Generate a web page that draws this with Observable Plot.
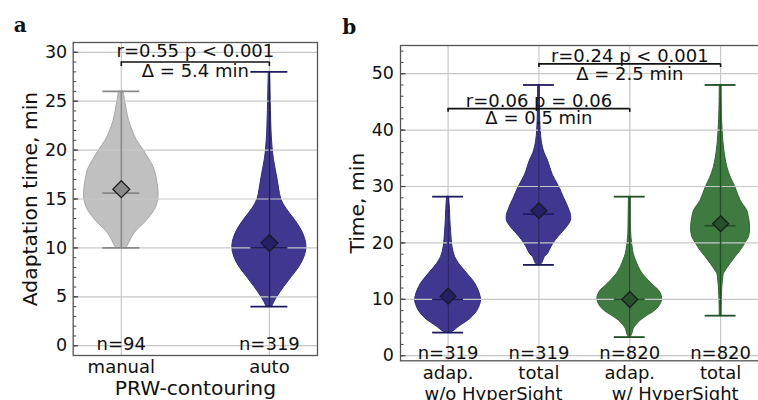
<!DOCTYPE html>
<html><head><meta charset="utf-8">
<script src="https://cdn.jsdelivr.net/npm/d3@7"></script>
<script src="https://cdn.jsdelivr.net/npm/@observablehq/plot@0.6"></script>
<style>
html,body{margin:0;padding:0;background:#fff;overflow:hidden;width:758px;height:400px}
#a{position:absolute;left:0;top:0;width:340px;height:400px}
#b{position:absolute;left:340px;top:0;width:418px;height:400px;overflow:hidden}
</style></head><body><div id="a"></div><div id="b"></div>
<script>
// ---------- Panel a data ----------
const aCategories = ["manual", "auto"];
const aN = [94, 319];
const aMin = [10, 4];
const aMax = [26, 28];
const aMedian = [15.6, 10.0];
const aMean = [16.0, 10.5];
const manualProfileY = [10, 10.4, 11, 11.5, 12, 12.5, 13, 14, 15, 16, 17, 18, 19, 20, 21, 22, 23, 24, 25, 26];
const manualProfileW = [0.035, 0.05, 0.07, 0.09, 0.12, 0.155, 0.185, 0.23, 0.25, 0.25, 0.24, 0.225, 0.19, 0.15, 0.105, 0.075, 0.052, 0.038, 0.026, 0.015];
const autoProfileY = [4, 4.5, 5, 6, 7, 8, 9, 10, 11, 12, 13, 14, 15, 16, 17, 18, 19, 20, 22, 24, 26, 28];
const autoProfileW = [0.02, 0.035, 0.055, 0.1, 0.15, 0.2, 0.235, 0.25, 0.24, 0.21, 0.165, 0.115, 0.08, 0.066, 0.055, 0.043, 0.031, 0.023, 0.014, 0.01, 0.007, 0.004];
const aYTicks = [0, 5, 10, 15, 20, 25, 30];
const aBrackets = [{from: 1, to: 2, y: 29, top: "r=0.55 p < 0.001", bottom: "Δ = 5.4 min"}];

// ---------- Panel b data ----------
const bCategories = ["adap.", "total", "adap.", "total"];
const bGroups = ["w/o HyperSight", "w/ HyperSight"];
const bN = [319, 319, 820, 820];
const bMin = [4.1, 16.1, 3.3, 7.1];
const bMax = [28.2, 48, 28.2, 48];
const bMedian = [10.0, 25.1, 10.0, 23.05];
const bMean = [10.55, 25.7, 9.96, 23.4];
const adapWoY = [4.1, 4.3, 5.0, 5.5, 6.2, 7.0, 8.0, 9.0, 9.8, 10.5, 11.6, 12.8, 13.9, 15.0, 16.3, 17.5, 19.2, 22, 24, 26, 28.2];
const adapWoW = [0.016, 0.055, 0.11, 0.154, 0.22, 0.275, 0.324, 0.352, 0.363, 0.357, 0.335, 0.297, 0.245, 0.187, 0.121, 0.077, 0.049, 0.033, 0.025, 0.02, 0.011];
const totalWoY = [16.1, 16.3, 17.5, 18.05, 19.2, 20.5, 21.6, 23, 23.9, 25, 25.7, 26.9, 28, 29.8, 32, 34.6, 36, 38.1, 41.7, 45, 48];
const totalWoW = [0.016, 0.033, 0.066, 0.099, 0.135, 0.187, 0.245, 0.319, 0.352, 0.352, 0.337, 0.308, 0.275, 0.227, 0.154, 0.099, 0.06, 0.03, 0.014, 0.011, 0.009];
const adapWY = [3.3, 3.8, 4.8, 5.5, 6.2, 7.0, 8.0, 9.0, 9.8, 10.6, 11.6, 12.4, 13.3, 14.5, 15.7, 17, 18.05, 20, 21.6, 24, 28.2];
const adapWW = [0.011, 0.027, 0.044, 0.077, 0.118, 0.187, 0.282, 0.335, 0.355, 0.352, 0.319, 0.264, 0.209, 0.143, 0.099, 0.066, 0.044, 0.025, 0.016, 0.013, 0.009];
const totalWY = [7.1, 9, 12.1, 13.5, 14.5, 15.3, 16.3, 17.5, 18.6, 20, 21, 22.2, 23.4, 24.5, 25.7, 27.5, 29.8, 31.5, 33.4, 35.5, 38.1, 42, 45, 48];
const totalWW = [0.009, 0.011, 0.019, 0.027, 0.036, 0.066, 0.11, 0.165, 0.22, 0.275, 0.311, 0.324, 0.322, 0.311, 0.293, 0.22, 0.165, 0.115, 0.074, 0.049, 0.03, 0.016, 0.011, 0.009];
const bYTicks = [0, 10, 20, 30, 40, 50];
const bBrackets = [
  {from: 1, to: 3, y: 43.8, top: "r=0.06 p = 0.06", bottom: "Δ = 0.5 min"},
  {from: 2, to: 4, y: 51.75, top: "r=0.24 p < 0.001", bottom: "Δ = 2.5 min"}
];

// ---------- styles ----------
const FONT = "DejaVu Sans";
const FS = 18;
const gray = {fill: "#c0c0c0", edge: "#a6a6a6", line: "#8a8a8a", dot: "#8a8a8a"};
const blue = {fill: "#3f3790", edge: "#2f2880", line: "#1e1a60", dot: "#241f66"};
const green = {fill: "#3f7b41", edge: "#2e6a31", line: "#1f4f22", dot: "#255229"};

const diamond = {draw(ctx, size) { const r = Math.sqrt(size / Math.PI); ctx.moveTo(0, -r); ctx.lineTo(r, 0); ctx.lineTo(0, r); ctx.lineTo(-r, 0); ctx.closePath(); }};
const tickSym = L => ({draw(ctx) { ctx.moveTo(0, 0); ctx.lineTo(L, 0); }});

function profile(pos, ys, ws) { return ys.map((y, i) => ({pos, y, w: ws[i]})); }

function violinMarks(rows, col) {
  return Plot.areaX(rows, {y: "y", x1: d => d.pos - d.w, x2: d => d.pos + d.w, fill: col.fill, fillOpacity: 1, stroke: col.edge, strokeWidth: 1, curve: "catmull-rom"});
}

function statMarks(pos, mins, maxs, meds, means, cols, cap, r) {
  const idx = pos.map((_, i) => i);
  return [
    Plot.ruleX(idx, {x: i => pos[i], y1: i => mins[i], y2: i => maxs[i], stroke: i => cols[i].line, strokeWidth: 1.6}),
    Plot.ruleY(idx, {y: i => mins[i], x1: i => pos[i] - cap, x2: i => pos[i] + cap, stroke: i => cols[i].line, strokeWidth: 1.8}),
    Plot.ruleY(idx, {y: i => maxs[i], x1: i => pos[i] - cap, x2: i => pos[i] + cap, stroke: i => cols[i].line, strokeWidth: 1.8}),
    Plot.ruleY(idx, {y: i => meds[i], x1: i => pos[i] - cap, x2: i => pos[i] + cap, stroke: i => cols[i].line, strokeWidth: 1.6}),
    Plot.dot(idx, {x: i => pos[i], y: i => means[i], symbol: diamond, r, fill: i => cols[i].dot, stroke: "#1a1a1a", strokeWidth: 1.2})
  ];
}

function bracketMarks(br, drop, dyTop, dyBot) {
  const ends = br.flatMap(d => [{x: d.from, y: d.y}, {x: d.to, y: d.y}]);
  return [
    Plot.ruleY(br, {y: "y", x1: "from", x2: "to", stroke: "#111", strokeWidth: 1.6}),
    Plot.ruleX(ends, {x: "x", y1: "y", y2: d => d.y - drop, stroke: "#111", strokeWidth: 1.6}),
    Plot.text(br, {x: d => (d.from + d.to) / 2, y: "y", text: "top", dy: dyTop, fontSize: FS, fill: "#111"}),
    Plot.text(br, {x: d => (d.from + d.to) / 2, y: "y", text: "bottom", dy: dyBot, fontSize: FS, fill: "#111"})
  ];
}

const M = {lineAnchor: "middle", textAnchor: "middle"};

// ---------- Panel a ----------
const aPos = aCategories.map((_, i) => i + 1);
const aMinor = d3.range(0, 31, 1);
const plotA = Plot.plot({
  width: 340, height: 400,
  marginLeft: 72.7, marginRight: 23, marginTop: 42, marginBottom: 45,
  style: {fontFamily: FONT, fontSize: "17px", background: "transparent", overflow: "visible"},
  x: {domain: [0.675, 2.325], axis: null},
  y: {domain: [-1, 31], axis: null},
  color: {type: "identity"},
  marks: [
    violinMarks(profile(1, manualProfileY, manualProfileW), gray),
    violinMarks(profile(2, autoProfileY, autoProfileW), blue),
    Plot.gridY(aYTicks, {stroke: "#c8c8c8", strokeOpacity: 1, strokeWidth: 1.2}),
    Plot.gridX(aPos, {stroke: "#c8c8c8", strokeOpacity: 1, strokeWidth: 1.2}),
    statMarks(aPos, aMin, aMax, aMedian, aMean, [gray, blue], 0.125, 8.5),
    bracketMarks(aBrackets, 0.45, -10.4, 9.6),
    Plot.text(aPos, {x: d => d, y: 0, text: (d, i) => "n=" + aN[i], dy: -1.6, fontSize: FS, fill: "#111"}),
    Plot.text(aPos, {...M, x: d => d, frameAnchor: "bottom", text: (d, i) => aCategories[i], dy: 11.8, fontSize: FS, fill: "#111"}),
    Plot.text(["PRW-contouring"], {...M, frameAnchor: "bottom", dy: 32.6, fontSize: 20.3, fill: "#111"}),
    Plot.text(["Adaptation time, min"], {...M, frameAnchor: "left", rotate: -90, dx: -42.2, fontSize: 20.3, fill: "#111"}),
    Plot.text(["a"], {frameAnchor: "top-left", textAnchor: "start", lineAnchor: "middle", dx: -59.4, dy: -17.4, fontSize: 20, fontWeight: "bold", fontFamily: "DejaVu Serif", fill: "#111"}),
    Plot.dot(aMinor, {y: d => d, frameAnchor: "left", symbol: tickSym(3), r: 1, fill: "none", stroke: "#444", strokeWidth: 1}),
    Plot.dot(aYTicks, {y: d => d, frameAnchor: "left", symbol: tickSym(5), r: 1, fill: "none", stroke: "#444", strokeWidth: 1.2}),
    Plot.axisY(aYTicks, {tickSize: 0, tickPadding: 6, label: null, fontSize: 17.5, fill: "#111"}),
    Plot.frame({stroke: "#555", strokeWidth: 1.3})
  ]
});
document.getElementById("a").appendChild(plotA);

// ---------- Panel b ----------
const bPos = bCategories.map((_, i) => i + 1);
const bCols = [blue, blue, green, green];
const bMinor = d3.range(0, 55, 2);
const plotB = Plot.plot({
  width: 418, height: 400,
  marginLeft: 60, marginRight: -9.7, marginTop: 45, marginBottom: 39.7,
  style: {fontFamily: FONT, fontSize: "17px", background: "transparent", overflow: "hidden"},
  x: {domain: [0.476, 4.524], axis: null},
  y: {domain: [-0.9, 55], axis: null},
  color: {type: "identity"},
  marks: [
    violinMarks(profile(1, adapWoY, adapWoW), blue),
    violinMarks(profile(2, totalWoY, totalWoW), blue),
    violinMarks(profile(3, adapWY, adapWW), green),
    violinMarks(profile(4, totalWY, totalWW), green),
    Plot.gridY(bYTicks, {stroke: "#c8c8c8", strokeOpacity: 1, strokeWidth: 1.2}),
    Plot.gridX(bPos, {stroke: "#c8c8c8", strokeOpacity: 1, strokeWidth: 1.2}),
    statMarks(bPos, bMin, bMax, bMedian, bMean, bCols, 0.17, 8),
    bracketMarks(bBrackets, 0.65, -7.3, 10.0),
    Plot.text(bPos, {x: d => d, y: 0, text: (d, i) => "n=" + bN[i], dy: -2.6, fontSize: FS, fill: "#111"}),
    Plot.text(bPos, {...M, x: d => d, frameAnchor: "bottom", text: (d, i) => bCategories[i], dy: 12.1, fontSize: FS, fill: "#111"}),
    Plot.text([1.5, 3.5], {...M, x: d => d, frameAnchor: "bottom", text: (d, i) => bGroups[i], dy: 33.1, fontSize: FS, fill: "#111"}),
    Plot.text(["Time, min"], {...M, frameAnchor: "left", rotate: -90, dx: -42.9, fontSize: 20.3, fill: "#111"}),
    Plot.text(["b"], {frameAnchor: "top-left", textAnchor: "start", lineAnchor: "middle", dx: -58.3, dy: -18.4, fontSize: 20, fontWeight: "bold", fontFamily: "DejaVu Serif", fill: "#111"}),
    Plot.dot(bMinor, {y: d => d, frameAnchor: "left", symbol: tickSym(3), r: 1, fill: "none", stroke: "#444", strokeWidth: 1}),
    Plot.dot(bYTicks, {y: d => d, frameAnchor: "left", symbol: tickSym(5), r: 1, fill: "none", stroke: "#444", strokeWidth: 1.2}),
    Plot.axisY(bYTicks, {tickSize: 0, tickPadding: 6.5, label: null, fontSize: 17.5, fill: "#111"}),
    Plot.frame({stroke: "#555", strokeWidth: 1.3})
  ]
});
document.getElementById("b").appendChild(plotB);
</script></body></html>
